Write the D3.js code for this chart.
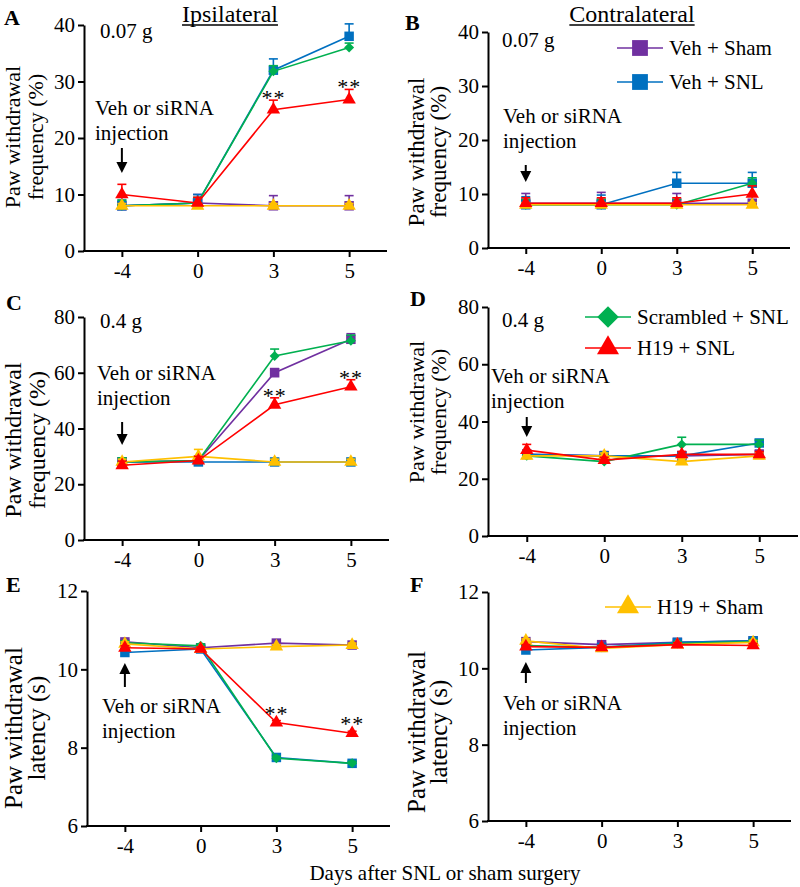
<!DOCTYPE html>
<html>
<head>
<meta charset="utf-8">
<script src="https://cdn.jsdelivr.net/npm/d3@7"></script>
<style>
  body { margin: 0; background: #fff; }
</style>
</head>
<body>
<svg id="fig" width="800" height="887"></svg>
<script>
// ---- data ----
const days = ['-4', '0', '3', '5']
const seriesNames = ['Veh + Sham', 'Veh + SNL', 'Scrambled + SNL', 'H19 + Sham', 'H19 + SNL']
const seriesColors = ['#7030a0', '#0070c0', '#00b050', '#ffc000', '#ff0000']
const seriesShapes = ['square', 'square', 'diamond', 'triangle', 'triangle']

// rows follow seriesNames order
const ipsi007 = [[8, 8.5, 8, 8], [8, 8.5, 32, 38], [8, 8.5, 31.8, 36], [8, 8, 8, 8], [10, 8.5, 25, 26.8]]
const ipsi007Err = [[1.5, 1.5, 1.8, 1.8], [1, 1.5, 2, 2.2], [1, 1, 1, 0.8], [0.4, 0.4, 0.4, 0.4], [1.8, 1, 1.7, 1.8]]
const contra007 = [[8.3, 8.3, 8.3, 8.3], [8, 8, 12, 12], [8, 8, 8, 12], [8, 8, 8, 8], [8.3, 8.3, 8.3, 10]]
const contra007Err = [[1.8, 2, 1.8, 1.5], [1.5, 1.8, 2, 2], [1, 1, 1, 1], [0.4, 0.4, 0.4, 0.4], [1, 1, 1, 1.5]]
const ipsi04 = [[28, 28.5, 60, 72], [28, 28, 28, 28], [28, 28.5, 66, 71.5], [28, 30, 28, 28], [26.8, 28.5, 48.5, 55]]
const ipsi04Err = [[1.5, 1.5, 1.5, 2], [1, 1, 1, 1], [1.5, 1.5, 2.5, 2], [1, 2.5, 1, 1], [1.5, 1.5, 2.5, 2.5]]
const contra04 = [[28.5, 28, 28, 28.5], [28.5, 28, 28, 32.5], [28, 26, 32, 32], [28, 28, 26, 28], [30, 26.5, 28.5, 28.5]]
const contra04Err = [[1.5, 1.5, 1.5, 1.5], [1, 1, 1, 1], [1, 1, 2.5, 1.5], [1, 1, 1, 1], [2, 1, 1, 1]]
const ipsiHeat = [[10.7, 10.55, 10.67, 10.62], [10.43, 10.52, 7.75, 7.6], [10.68, 10.6, 7.73, 7.6], [10.65, 10.52, 10.58, 10.62], [10.55, 10.52, 8.64, 8.37]]
const ipsiHeatErr = [[0.05, 0.05, 0.05, 0.05], [0.05, 0.05, 0.05, 0.05], [0.05, 0.05, 0.05, 0.05], [0.05, 0.05, 0.05, 0.05], [0.05, 0.05, 0.05, 0.05]]
const contraHeat = [[10.7, 10.62, 10.68, 10.72], [10.48, 10.55, 10.68, 10.72], [10.6, 10.55, 10.65, 10.7], [10.72, 10.52, 10.62, 10.68], [10.57, 10.55, 10.62, 10.6]]
const contraHeatErr = [[0.05, 0.05, 0.05, 0.05], [0.05, 0.05, 0.05, 0.05], [0.05, 0.05, 0.05, 0.05], [0.05, 0.05, 0.05, 0.05], [0.05, 0.05, 0.05, 0.05]]

const freqTicks007 = [0, 10, 20, 30, 40]
const freqTicks04 = [0, 20, 40, 60, 80]
const latencyTicks = [6, 8, 10, 12]
const starDays = ['3', '5'] // ** on H19 + SNL

const FONT = '"Liberation Serif", "Times New Roman", Times, "DejaVu Serif", serif'
const svg = d3.select('#fig')

const panels = [
  { letter: 'A', lx: 4, ly: 25, x0: 84, x1: 387, yb: 251, yt: 25, dom: [0, 40], ticks: freqTicks007, vals: ipsi007, err: ipsi007Err,
    yl: ['Paw withdrawal', 'frequency (%)'], ylx: [20, 43], yly: 137, ylfs: 22, dose: '0.07 g', dx: 100, dy: 38,
    note: [95, 115], arrow: [148, 173], stars: true },
  { letter: 'B', lx: 405, ly: 30, x0: 488, x1: 790, yb: 248, yt: 32, dom: [0, 40], ticks: freqTicks007, vals: contra007, err: contra007Err,
    yl: ['Paw withdrawal', 'frequency (%)'], ylx: [424, 446], yly: 152, ylfs: 23, dose: '0.07 g', dx: 502, dy: 47,
    note: [503, 123], arrow: [165, 182], legend: [0, 1], legY: [48, 82], legX: 617 },
  { letter: 'C', lx: 6, ly: 310, x0: 84, x1: 389, yb: 540, yt: 317, dom: [0, 80], ticks: freqTicks04, vals: ipsi04, err: ipsi04Err,
    yl: ['Paw withdrawal', 'frequency (%)'], ylx: [21, 45], yly: 440, ylfs: 24, dose: '0.4 g', dx: 100, dy: 328,
    note: [97, 380], arrow: [422, 445], stars: true },
  { letter: 'D', lx: 410, ly: 306, x0: 488, x1: 798, yb: 536, yt: 307, dom: [0, 80], ticks: freqTicks04, vals: contra04, err: contra04Err,
    yl: ['Paw withdrawal', 'frequency (%)'], ylx: [424, 446], yly: 412, ylfs: 22, dose: '0.4 g', dx: 502, dy: 327,
    note: [491, 383], arrow: [417, 437], legend: [2, 4], legY: [317, 348], legX: 585 },
  { letter: 'E', lx: 6, ly: 592, x0: 87, x1: 390, yb: 826, yt: 591, dom: [6, 12], ticks: latencyTicks, vals: ipsiHeat, err: ipsiHeatErr,
    yl: ['Paw withdrawal', 'latency (s)'], ylx: [22, 45], yly: 728, ylfs: 25,
    note: [102, 713], arrowUp: [687, 663], stars: true },
  { letter: 'F', lx: 410, ly: 592, x0: 488, x1: 791, yb: 821, yt: 592, dom: [6, 12], ticks: latencyTicks, vals: contraHeat, err: contraHeatErr,
    yl: ['Paw withdrawal', 'latency (s)'], ylx: [425, 447], yly: 732, ylfs: 25,
    note: [503, 710], arrowUp: [683, 662], legend: [3], legY: [607], legX: 605 }
]

function shapePath(shape, size) {
  if (shape === 'square') return d3.symbol(d3.symbolSquare, size)()
  if (shape === 'triangle') return d3.symbol(d3.symbolTriangle, size)()
  return d3.symbol(d3.symbolSquare, size * 0.55)()
}
function shapeTransform(shape, x, y) {
  return 'translate(' + x + ',' + y + ')' + (shape === 'diamond' ? 'rotate(45)' : '')
}
const markSize = { square: 90, triangle: 78, diamond: 90 }
const legSize = { square: 250, triangle: 210, diamond: 420 }

function arrow(g, x, yFrom, yTo) {
  const dir = yTo > yFrom ? 1 : -1
  g.append('line').attr('x1', x).attr('x2', x).attr('y1', yFrom).attr('y2', yTo - dir * 8)
    .attr('stroke', '#000').attr('stroke-width', 2)
  g.append('path')
    .attr('d', 'M' + (x - 5.5) + ',' + (yTo - dir * 11) + 'L' + (x + 5.5) + ',' + (yTo - dir * 11) + 'L' + x + ',' + yTo + 'Z')
    .attr('fill', '#000')
}

panels.forEach(p => {
  const g = svg.append('g')
  const x = d3.scalePoint().domain(days).range([p.x0, p.x1]).padding(0.5)
  const y = d3.scaleLinear().domain(p.dom).range([p.yb, p.yt])

  // axes
  const ax = g.append('g').attr('transform', 'translate(0,' + p.yb + ')')
    .call(d3.axisBottom(x).tickSize(6).tickSizeOuter(0).tickPadding(6))
  const ay = g.append('g').attr('transform', 'translate(' + p.x0 + ',0)')
    .call(d3.axisLeft(y).tickValues(p.ticks).tickFormat(d3.format('d')).tickSize(6).tickSizeOuter(0).tickPadding(3))
  ;[ax, ay].forEach(a => {
    a.attr('font-family', null).attr('font-size', null)
    a.selectAll('path,line').attr('stroke', '#000').attr('stroke-width', 2)
    a.selectAll('text').attr('font-size', 21)
  })
  ax.select('.domain').attr('d', 'M' + (p.x0 - 1) + ',0H' + p.x1)

  // panel letter
  g.append('text').attr('x', p.lx).attr('y', p.ly).attr('font-size', 22).attr('font-weight', 'bold').text(p.letter)

  // y label
  p.yl.forEach((t, i) => {
    g.append('text').attr('transform', 'translate(' + p.ylx[i] + ',' + p.yly + ')rotate(-90)')
      .attr('text-anchor', 'middle').attr('font-size', p.ylfs).text(t)
  })

  if (p.dose) g.append('text').attr('x', p.dx).attr('y', p.dy).attr('font-size', 21).text(p.dose)

  // injection note
  g.append('text').attr('x', p.note[0]).attr('y', p.note[1]).attr('font-size', 21).text('Veh or siRNA')
  g.append('text').attr('x', p.note[0]).attr('y', p.note[1] + 25).attr('font-size', 21).text('injection')
  if (p.arrow) arrow(g, x(days[0]), p.arrow[0], p.arrow[1])
  if (p.arrowUp) arrow(g, x(days[0]), p.arrowUp[0], p.arrowUp[1])

  // series
  const line = d3.line().x((d, i) => x(days[i])).y(d => y(d))
  p.vals.forEach((vals, s) => {
    const col = seriesColors[s], sh = seriesShapes[s]
    const sg = g.append('g')
    sg.append('path').datum(vals).attr('d', line).attr('fill', 'none').attr('stroke', col).attr('stroke-width', 1.6)
    vals.forEach((v, i) => {
      const cx = x(days[i]), top = y(v + p.err[s][i])
      sg.append('line').attr('x1', cx).attr('x2', cx).attr('y1', y(v)).attr('y2', top).attr('stroke', col).attr('stroke-width', 1.6)
      sg.append('line').attr('x1', cx - 4.5).attr('x2', cx + 4.5).attr('y1', top).attr('y2', top).attr('stroke', col).attr('stroke-width', 1.6)
    })
    sg.selectAll('path.mk').data(vals).join('path').attr('class', 'mk')
      .attr('d', shapePath(sh, markSize[sh]))
      .attr('transform', (d, i) => shapeTransform(sh, x(days[i]), y(d)))
      .attr('fill', col)
  })

  // significance stars on H19 + SNL
  if (p.stars) {
    const s = seriesNames.indexOf('H19 + SNL')
    starDays.forEach(dd => {
      const i = days.indexOf(dd)
      const top = Math.min(y(p.vals[s][i] + p.err[s][i]), y(p.vals[s][i]) - 7)
      g.append('text').attr('x', x(dd)).attr('y', top + 5)
        .attr('text-anchor', 'middle').attr('font-size', 22).attr('letter-spacing', 1).text('**')
    })
  }

  // legend
  if (p.legend) {
    p.legend.forEach((s, k) => {
      const ly = p.legY[k], col = seriesColors[s], sh = seriesShapes[s]
      g.append('line').attr('x1', p.legX).attr('x2', p.legX + 46).attr('y1', ly).attr('y2', ly)
        .attr('stroke', col).attr('stroke-width', 1.6)
      g.append('path').attr('d', shapePath(sh, legSize[sh])).attr('transform', shapeTransform(sh, p.legX + 23, ly)).attr('fill', col)
      g.append('text').attr('x', p.legX + 52).attr('y', ly + 7).attr('font-size', 21).text(seriesNames[s])
    })
  }
})

// column titles
;[['Ipsilateral', 230], ['Contralateral', 632]].forEach(([t, cx]) => {
  const tt = svg.append('text').attr('x', cx).attr('y', 22).attr('text-anchor', 'middle').attr('font-size', 24)
    .style('font-family', FONT).text(t)
  const w = tt.node().getComputedTextLength()
  svg.append('line').attr('x1', cx - w / 2).attr('x2', cx + w / 2).attr('y1', 25).attr('y2', 25)
    .attr('stroke', '#000').attr('stroke-width', 1.5)
})

svg.append('text').attr('x', 445).attr('y', 880).attr('text-anchor', 'middle').attr('font-size', 21)
  .text('Days after SNL or sham surgery')

svg.selectAll('text').style('font-family', FONT).style('fill', '#000')
</script>
</body>
</html>
